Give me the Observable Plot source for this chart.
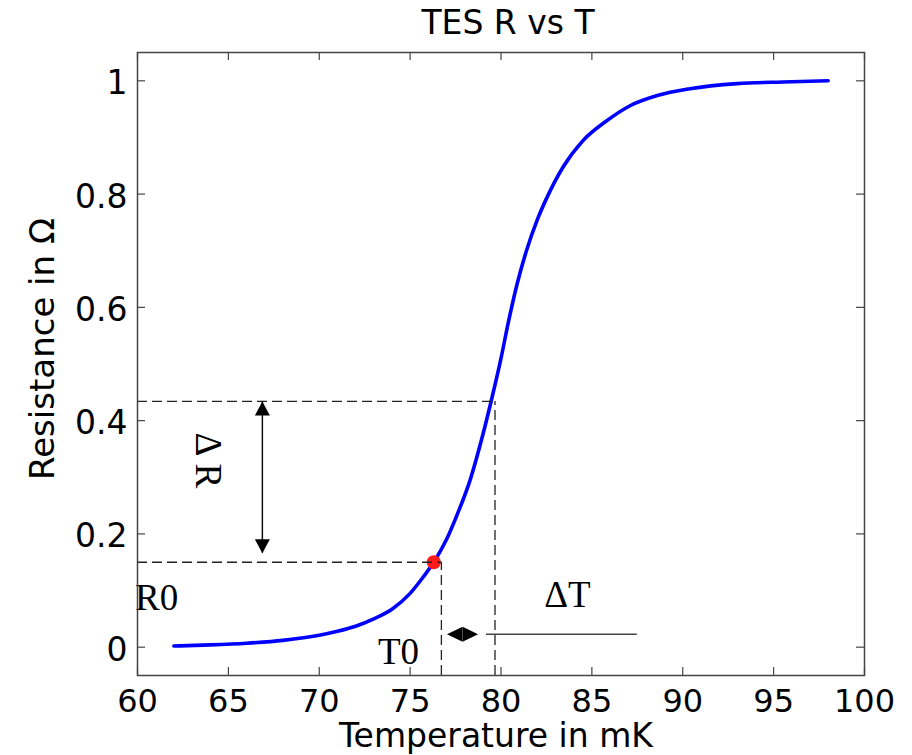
<!DOCTYPE html>
<html><head><meta charset="utf-8">
<script src="https://cdn.jsdelivr.net/npm/d3@7"></script>
<script src="https://cdn.jsdelivr.net/npm/@observablehq/plot@0.6"></script>
<style>body{margin:0;background:#fff} svg{display:block}</style>
</head><body><div id="chart"></div>
<script>
// ---- data ----
const temps  = [62, 64, 66, 68, 70, 71, 72, 73, 74, 75, 75.7, 76.3, 77, 77.6, 78.3, 79, 79.5, 80, 80.4, 80.9, 81.4, 82, 82.5, 83.4, 84.5, 85.8, 87.1, 88.6, 90.4, 93, 95.5, 98];
const resist = [0.002, 0.004, 0.007, 0.012, 0.021, 0.028, 0.037, 0.05, 0.067, 0.095, 0.123, 0.15, 0.19, 0.235, 0.295, 0.375, 0.44, 0.51, 0.573, 0.643, 0.70, 0.755, 0.792, 0.847, 0.894, 0.929, 0.956, 0.974, 0.986, 0.995, 0.998, 1.0];
const xTicks = [60, 65, 70, 75, 80, 85, 90, 95, 100];
const xTickLabels = ["60", "65", "70", "75", "80", "85", "90", "95", "100"];
const yTicks = [0, 0.2, 0.4, 0.6, 0.8, 1];
const yTickLabels = ["0", "0.2", "0.4", "0.6", "0.8", "1"];
const xDomain = [60, 100];
const yDomain = [-0.05, 1.05];
const operatingPoint = [{T: 76.3, R: 0.15}];
const guideLow  = [{T: 76.72, R: 0.15}];   // R0 / T0 guide
const guideHigh = [{T: 79.67, R: 0.434}];  // upper guide
const deltaRArrow = [{T: 66.87, Rtop: 0.434, Rbot: 0.166}];
const deltaTArrow = [{Tleft: 77.03, Tright: 78.74, R: 0.023, lineFrom: 79.2, lineTo: 87.5}];
const annotations = [
  {label: "R0", T: 61.05, R: 0.086, rotate: 0},
  {label: "T0", T: 74.36, R: -0.009, rotate: 0},
  {label: "ΔT", T: 83.65, R: 0.092, rotate: 0},
  {label: "Δ R", T: 63.85, R: 0.33, rotate: 90}
];
const curve = temps.map((t, i) => ({T: t, R: resist[i]}));

// ---- layout ----
const W = 912, H = 755, mL = 137, mR = 48, mT = 52, mB = 80;
const innerW = W - mL - mR, innerH = H - mT - mB;
const sans = "DejaVu Sans, Liberation Sans, Arial, sans-serif";
const serif = "Liberation Serif, Times New Roman, serif";
const axisColor = "#444";

function tri(dir, len, half) {
  return {draw(ctx) {
    if (dir === "up")    { ctx.moveTo(0, 0); ctx.lineTo(-half, len); ctx.lineTo(half, len); }
    if (dir === "down")  { ctx.moveTo(0, 0); ctx.lineTo(-half, -len); ctx.lineTo(half, -len); }
    if (dir === "left")  { ctx.moveTo(0, 0); ctx.lineTo(len, -half); ctx.lineTo(len, half); }
    if (dir === "right") { ctx.moveTo(0, 0); ctx.lineTo(-len, -half); ctx.lineTo(-len, half); }
    ctx.closePath();
  }};
}

const dash = {stroke: "#222", strokeWidth: 1.3, strokeDasharray: "10,5"};

const chart = Plot.plot({
  width: W, height: H,
  marginLeft: mL, marginRight: mR, marginTop: mT, marginBottom: mB,
  x: {domain: xDomain, axis: null},
  y: {domain: yDomain, axis: null},
  marks: [
    // curve and operating point
    Plot.line(curve, {x: "T", y: "R", curve: "monotone-x", stroke: "#0000ff", strokeWidth: 3.6}),
    Plot.dot(operatingPoint, {x: "T", y: "R", r: 7, fill: "#ff1a1a", stroke: "none"}),
    // dashed guides
    Plot.ruleY(guideLow, {y: "R", x1: xDomain[0], x2: "T", ...dash}),
    Plot.ruleX(guideLow, {x: "T", y1: yDomain[0], y2: "R", ...dash}),
    Plot.ruleY(guideHigh, {y: "R", x1: xDomain[0], x2: "T", ...dash}),
    Plot.ruleX(guideHigh, {x: "T", y1: yDomain[0], y2: "R", ...dash}),
    // ΔR arrow
    Plot.ruleX(deltaRArrow, {x: "T", y1: "Rbot", y2: "Rtop", stroke: "#111", strokeWidth: 1.5}),
    Plot.dot(deltaRArrow, {x: "T", y: "Rtop", r: 5, symbol: tri("up", 14, 7.5), fill: "#000", stroke: "none"}),
    Plot.dot(deltaRArrow, {x: "T", y: "Rbot", r: 5, symbol: tri("down", 14, 7.5), fill: "#000", stroke: "none"}),
    // ΔT arrow
    Plot.dot(deltaTArrow, {x: "Tleft", y: "R", r: 5, symbol: tri("left", 15.5, 7.5), fill: "#000", stroke: "none"}),
    Plot.dot(deltaTArrow, {x: "Tright", y: "R", r: 5, symbol: tri("right", 15.5, 7.5), fill: "#000", stroke: "none"}),
    Plot.ruleY(deltaTArrow, {y: "R", x1: "lineFrom", x2: "lineTo", stroke: "#444", strokeWidth: 1.5}),
    // annotation labels
    Plot.text(annotations, {x: "T", y: "R", text: "label", rotate: "rotate", textAnchor: "middle",
      fontFamily: serif, fontSize: 37, fill: "#000", lineAnchor: "middle"}),
    // frame and inner ticks
    Plot.frame({stroke: axisColor, strokeWidth: 1.5}),
    Plot.ruleX(xTicks, {x: d => d, insetTop: innerH - 8, stroke: axisColor, strokeWidth: 1.2}),
    Plot.ruleX(xTicks, {x: d => d, insetBottom: innerH - 8, stroke: axisColor, strokeWidth: 1.2}),
    Plot.ruleY(yTicks, {y: d => d, insetRight: innerW - 8, stroke: axisColor, strokeWidth: 1.2}),
    Plot.ruleY(yTicks, {y: d => d, insetLeft: innerW - 8, stroke: axisColor, strokeWidth: 1.2}),
    // tick labels
    Plot.text(xTicks, {x: d => d, text: (d, i) => xTickLabels[i], frameAnchor: "bottom", dy: 26, textAnchor: "middle",
      lineAnchor: "middle", fontFamily: sans, fontSize: 32, fill: "#000"}),
    Plot.text(yTicks, {y: d => d, text: (d, i) => yTickLabels[i], frameAnchor: "left", dx: -10, dy: 3,
      textAnchor: "end", lineAnchor: "middle", fontFamily: sans, fontSize: 33, fill: "#000"}),
    // titles
    Plot.text(["Temperature in mK"], {text: d => d, frameAnchor: "bottom", dy: 61, textAnchor: "middle", dx: -5,
      lineAnchor: "middle", fontFamily: sans, fontSize: 33, fill: "#000"}),
    Plot.text(["Resistance in Ω"], {text: d => d, frameAnchor: "left", dx: -94, dy: -15, rotate: -90,
      textAnchor: "middle", lineAnchor: "middle", fontFamily: sans, fontSize: 34, fill: "#000"}),
    Plot.text(["TES R vs T"], {text: d => d, frameAnchor: "top", dy: -29, dx: 7, textAnchor: "middle",
      lineAnchor: "middle", fontFamily: sans, fontSize: 33, fill: "#000"})
  ]
});
document.getElementById("chart").appendChild(chart);
</script>
</body></html>
